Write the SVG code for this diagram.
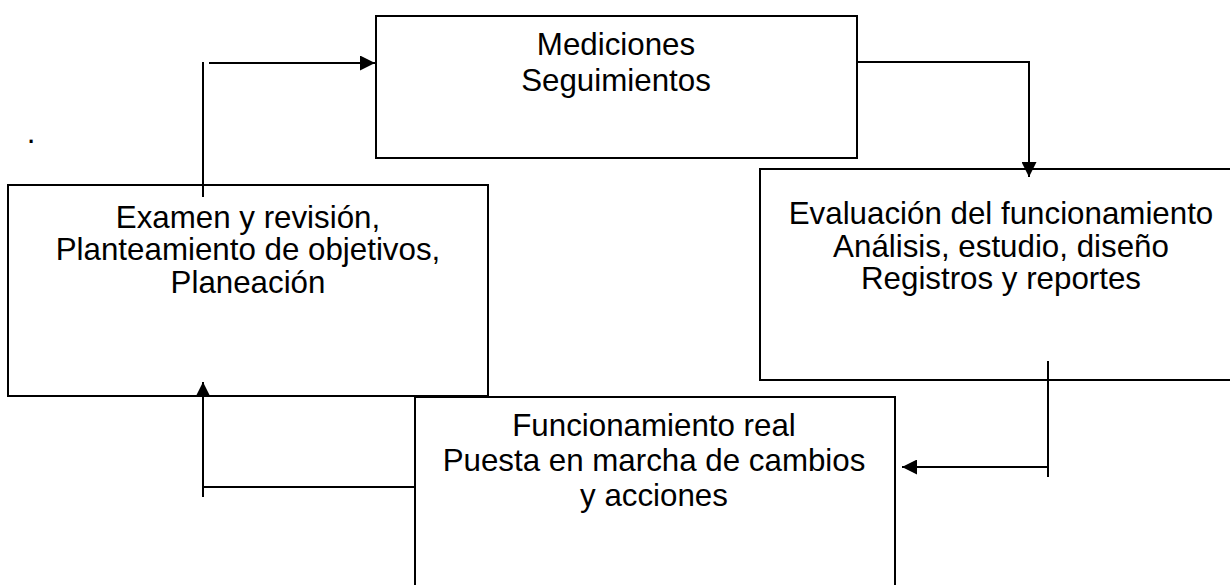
<svg xmlns="http://www.w3.org/2000/svg" width="1230" height="585" viewBox="0 0 1230 585">
  <style>
    .box { fill: #ffffff; stroke: #000000; stroke-width: 2; }
    .lbl { font-family: "Liberation Sans", Arial, sans-serif; font-size: 31.3px; fill: #000000; text-anchor: middle; }
    .conn { fill: none; stroke: #000000; stroke-width: 2; }
  </style>
  <defs>
    <marker id="arrow" viewBox="0 0 15 15" refX="15" refY="7.5" markerWidth="15" markerHeight="15" markerUnits="userSpaceOnUse" orient="auto">
      <path d="M0,0 L15,7.5 L0,15 Z" fill="#000000"/>
    </marker>
  </defs>
  <rect width="1230" height="585" fill="#ffffff"/>

  <text class="lbl" x="31" y="143">.</text>

  <g id="node-mediciones">
    <rect class="box" x="376" y="16" width="481" height="142"/>
    <text class="lbl" x="616" y="55">Mediciones</text>
    <text class="lbl" x="616" y="91">Seguimientos</text>
  </g>

  <g id="node-examen">
    <rect class="box" x="8" y="185" width="480" height="211"/>
    <text class="lbl" x="248" y="228">Examen y revisión,</text>
    <text class="lbl" x="248" y="260">Planteamiento de objetivos,</text>
    <text class="lbl" x="248" y="293">Planeación</text>
  </g>

  <g id="node-evaluacion">
    <rect class="box" x="760" y="169" width="490" height="211"/>
    <text class="lbl" x="1001" y="224">Evaluación del funcionamiento</text>
    <text class="lbl" x="1001" y="257">Análisis, estudio, diseño</text>
    <text class="lbl" x="1001" y="289">Registros y reportes</text>
  </g>

  <g id="node-funcionamiento">
    <rect class="box" x="415" y="397" width="480" height="200"/>
    <text class="lbl" x="654" y="436">Funcionamiento real</text>
    <text class="lbl" x="654" y="471">Puesta en marcha de cambios</text>
    <text class="lbl" x="654" y="506">y acciones</text>
  </g>

  <g id="connectors">
    <line class="conn" x1="203" y1="62" x2="203" y2="197"/>
    <line class="conn" x1="209" y1="63" x2="375" y2="63" marker-end="url(#arrow)"/>
    <polyline class="conn" points="857,62 1029,62 1029,177" marker-end="url(#arrow)"/>
    <line class="conn" x1="1048" y1="361" x2="1048" y2="477"/>
    <line class="conn" x1="1048" y1="467" x2="902" y2="467" marker-end="url(#arrow)"/>
    <line class="conn" x1="415" y1="487" x2="203" y2="487"/>
    <line class="conn" x1="203" y1="497" x2="203" y2="382" marker-end="url(#arrow)"/>
  </g>
</svg>
